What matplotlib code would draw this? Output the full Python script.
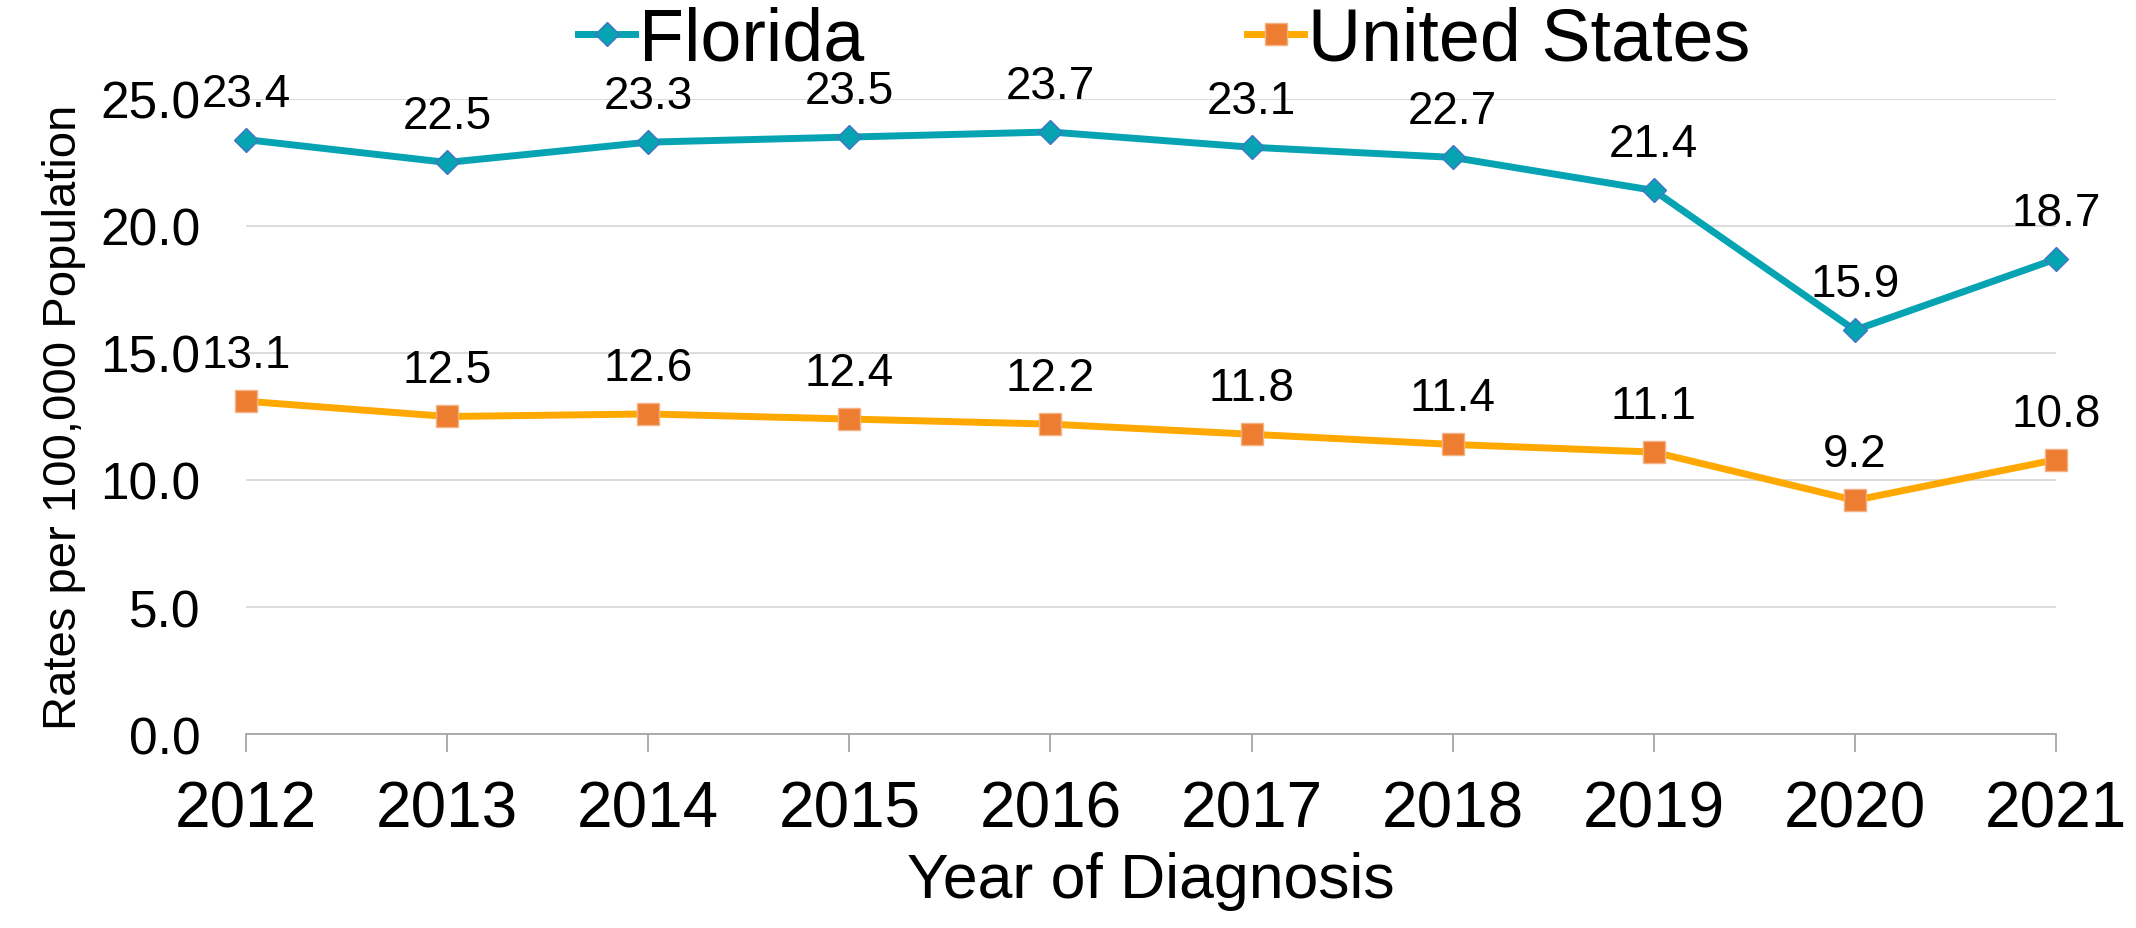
import matplotlib
matplotlib.use("Agg")
import matplotlib.pyplot as plt

plt.rcParams['font.family'] = ['Liberation Sans', 'DejaVu Sans']

years = [2012, 2013, 2014, 2015, 2016, 2017, 2018, 2019, 2020, 2021]
florida = [23.4, 22.5, 23.3, 23.5, 23.7, 23.1, 22.7, 21.4, 15.9, 18.7]
united_states = [13.1, 12.5, 12.6, 12.4, 12.2, 11.8, 11.4, 11.1, 9.2, 10.8]
y_ticks = [0, 5, 10, 15, 20, 25]

fig = plt.figure(figsize=(21.36, 9.29), dpi=100)
ax = fig.add_axes([0.1152, 0.2088, 0.8473, 0.6836])

fl_line, = ax.plot(years, florida, color='#06A3B3', lw=5, marker='D', ms=12,
                   markerfacecolor='#06A3B3', markeredgecolor='#4472C4',
                   markeredgewidth=1, zorder=3, clip_on=False)
us_line, = ax.plot(years, united_states, color='#FFA800', lw=5, marker='s', ms=15.5,
                   markerfacecolor='#ED7D31', markeredgecolor='#F4B183',
                   markeredgewidth=1, zorder=3, clip_on=False)

# data labels above each point
for series in (florida, united_states):
    for x, v in zip(years, series):
        ax.annotate("%.1f" % v, (x, v), xytext=(0, 24.5), textcoords='offset points',
                    ha='center', va='baseline', fontsize=33, color='black', zorder=4)

ax.set_xlim(2012, 2021)
ax.set_ylim(0, 25)
ax.set_xticks(years)
ax.set_xticklabels([str(y) for y in years], fontsize=46)
ax.set_yticks(y_ticks)
ax.set_yticklabels(["%.1f" % t for t in y_ticks], fontsize=37)

ax.yaxis.grid(True, color='#D9D9D9', lw=1.3)
ax.set_axisbelow(True)
for side in ('top', 'right', 'left'):
    ax.spines[side].set_visible(False)
ax.spines['bottom'].set_color('#A6A6A6')
ax.spines['bottom'].set_linewidth(1.3)
ax.tick_params(axis='x', length=13, width=1.3, color='#A6A6A6', pad=20)
ax.tick_params(axis='y', length=0, pad=33)

ax.set_xlabel("Year of Diagnosis", fontsize=45, labelpad=8)
ax.set_ylabel("Rates per 100,000 Population", fontsize=34, labelpad=10)

fig.legend([fl_line, us_line], ["Florida", "United States"], loc='center',
           bbox_to_anchor=(0.545, 0.956), ncol=2, frameon=False, fontsize=53,
           handlelength=0.78, handletextpad=0.05, columnspacing=5.2,
           borderpad=0, borderaxespad=0)

fig.savefig("out.png", dpi=100)
